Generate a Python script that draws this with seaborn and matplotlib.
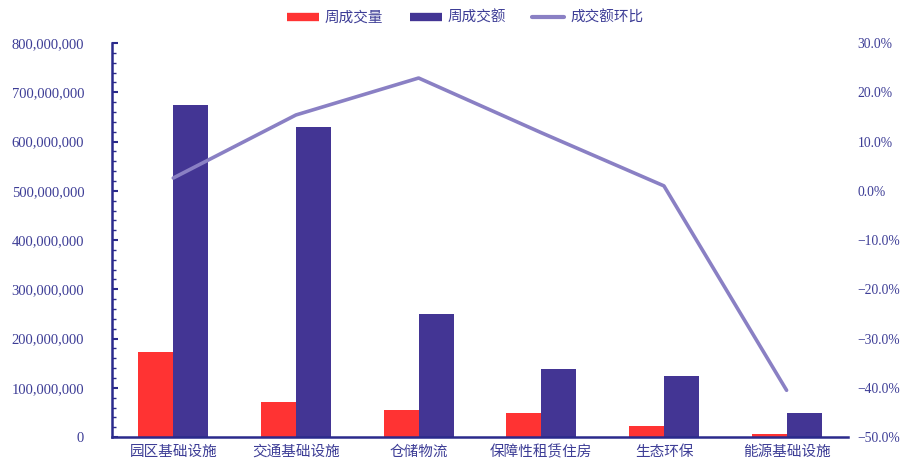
import numpy as np
import pandas as pd
import matplotlib
matplotlib.use("Agg")
import matplotlib.pyplot as plt
from matplotlib.lines import Line2D
from matplotlib.ticker import FuncFormatter, MultipleLocator
import seaborn as sns

categories = ["园区基础设施", "交通基础设施", "仓储物流", "保障性租赁住房", "生态环保", "能源基础设施"]
volume = [173e6, 71e6, 55e6, 49e6, 22e6, 6e6]          # 周成交量
amount = [674e6, 629e6, 250e6, 138e6, 124e6, 49e6]     # 周成交额
mom_pct = [2.6, 15.4, 22.9, 11.8, 1.0, -40.5]          # 成交额环比 (%)
series_names = ["周成交量", "周成交额", "成交额环比"]

RED = "#FF3333"
BLUE = "#433594"
LINE = "#8A80C4"
AXIS = "#2B2A8C"
TXT = "#3D3D96"

sns.set_style("white")
plt.rcParams["font.family"] = ["Liberation Serif", "Noto Sans CJK SC", "DejaVu Sans"]

df = pd.DataFrame({
    "cat": categories * 2,
    "val": volume + amount,
    "series": [series_names[0]] * len(categories) + [series_names[1]] * len(categories),
})

fig = plt.figure(figsize=(9.03, 4.63), dpi=100)
ax = fig.add_axes([0.124, 0.056, 0.815, 0.851])

sns.barplot(data=df, x="cat", y="val", hue="series", order=categories,
            hue_order=series_names[:2], palette=[RED, BLUE], width=0.57,
            saturation=1, linewidth=0, ax=ax, legend=False)
ax.set_xlabel("")
ax.set_ylabel("")
ax.set_xlim(-0.5, len(categories) - 0.5)
ax.set_ylim(0, 8e8)
ax.yaxis.set_major_locator(MultipleLocator(1e8))
ax.yaxis.set_minor_locator(MultipleLocator(2e7))
ax.yaxis.set_major_formatter(FuncFormatter(lambda v, p: f"{v:,.0f}"))
ax.set_xticks(np.arange(len(categories)))
ax.set_xticklabels(categories)
ax.set_xticks(np.arange(-0.5, len(categories)), minor=True)

for s in ["top", "right"]:
    ax.spines[s].set_visible(False)
for s in ["left", "bottom"]:
    ax.spines[s].set_color(AXIS)
    ax.spines[s].set_linewidth(1.8)

ax.tick_params(axis="y", which="major", direction="in", length=4, width=1.5,
               color=AXIS, labelcolor=TXT, labelsize=10.5, pad=20)
ax.tick_params(axis="y", which="minor", direction="in", length=3, width=1,
               color=AXIS)
ax.tick_params(axis="x", which="major", length=0, labelcolor=TXT,
               labelsize=10.5, pad=6)
ax.tick_params(axis="x", which="minor", direction="in", length=4, width=1.5,
               color=AXIS)

ax2 = ax.twinx()
sns.lineplot(x=np.arange(len(categories)), y=mom_pct, color=LINE, lw=2.6,
             ax=ax2, legend=False)
ax2.set_ylim(-50, 30)
ax2.yaxis.set_major_locator(MultipleLocator(10))
ax2.yaxis.set_major_formatter(FuncFormatter(lambda v, p: f"{v:.1f}%".replace("-", "\u2212")))
ax2.tick_params(axis="y", length=0, labelcolor=TXT, labelsize=9.8, pad=7)
for s in ax2.spines.values():
    s.set_visible(False)
ax2.set_xlim(-0.5, len(categories) - 0.5)

handles = [
    Line2D([0], [0], color=RED, lw=6, solid_capstyle="butt"),
    Line2D([0], [0], color=BLUE, lw=6, solid_capstyle="butt"),
    Line2D([0], [0], color=LINE, lw=3),
]
leg = fig.legend(handles, series_names, loc="center", bbox_to_anchor=(0.515, 0.962),
                 ncol=3, frameon=False, fontsize=10.5, handlelength=2.2,
                 columnspacing=1.8, handletextpad=0.4)
for t in leg.get_texts():
    t.set_color(TXT)

fig.savefig("out.png", dpi=100)
